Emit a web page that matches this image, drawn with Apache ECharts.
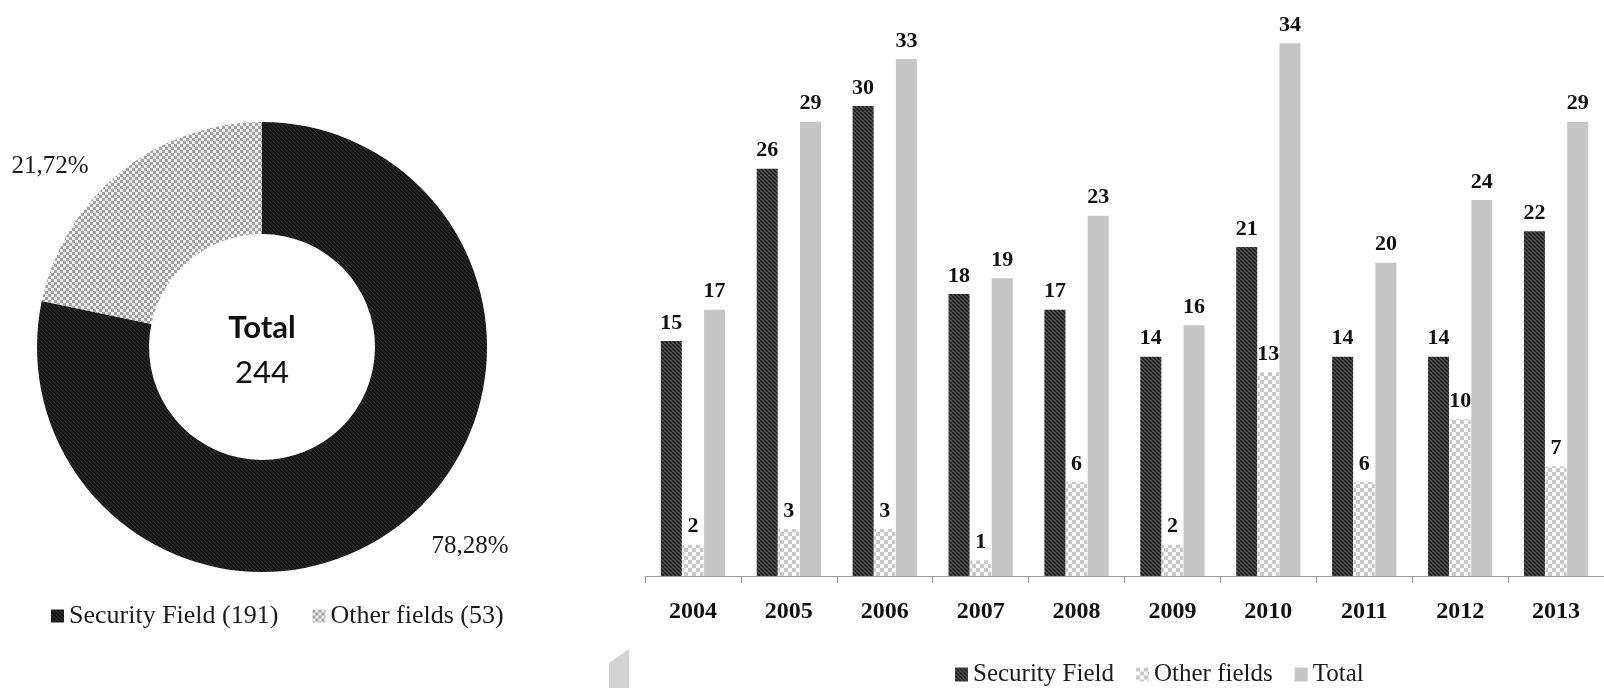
<!DOCTYPE html>
<html>
<head>
<meta charset="utf-8">
<script src="https://cdn.jsdelivr.net/npm/echarts@6/dist/echarts.min.js"></script>
<style>
  html, body { margin: 0; padding: 0; background: #fff; }
  #chart { width: 1604px; height: 688px; }
</style>
</head>
<body>
<div id="chart"></div>
<script>
// Publications per year, split by field
const years = ['2004', '2005', '2006', '2007', '2008', '2009', '2010', '2011', '2012', '2013'];
const securityField = [15, 26, 30, 18, 17, 14, 21, 14, 14, 22];
const otherFields = [2, 3, 3, 1, 6, 2, 13, 6, 10, 7];
const totals = [17, 29, 33, 19, 23, 16, 34, 20, 24, 29];

// Overall split shown in the donut
const fieldNames = ['Security Field', 'Other fields'];
const fieldCounts = [191, 53];

const serif = 'Liberation Serif';

// Small repeating fills: diagonal hatching and checkerboard
function hatch(bg, fg, size, lw) {
  const c = document.createElement('canvas');
  c.width = c.height = size;
  const g = c.getContext('2d');
  g.fillStyle = bg;
  g.fillRect(0, 0, size, size);
  g.strokeStyle = fg;
  g.lineWidth = lw;
  for (const o of [-size, 0, size]) {
    g.beginPath();
    g.moveTo(o, 0);
    g.lineTo(o + size, size);
    g.stroke();
  }
  return { image: c, repeat: 'repeat' };
}
function checker(a, b, cell) {
  const c = document.createElement('canvas');
  c.width = c.height = cell * 2;
  const g = c.getContext('2d');
  g.fillStyle = b;
  g.fillRect(0, 0, cell * 2, cell * 2);
  g.fillStyle = a;
  g.fillRect(0, 0, cell, cell);
  g.fillRect(cell, cell, cell, cell);
  return { image: c, repeat: 'repeat' };
}

const pieDark = hatch('#141414', '#2e2e2e', 4, 1.2);
const pieLight = checker('#a2a2a2', '#f2f2f2', 3);
const barDark = hatch('#5a5a5a', '#1e1e1e', 4, 1.6);
const barLight = checker('#c8c8c8', '#ffffff', 4);
const barTotal = '#c6c6c6';

const pieNames = fieldNames.map((n, i) => `${n} (${fieldCounts[i]})`);
const grandTotal = fieldCounts.reduce((s, v) => s + v, 0);

const chart = echarts.init(document.getElementById('chart'), null, { renderer: 'canvas' });

const labelStyle = {
  show: true,
  position: 'top',
  distance: 7,
  fontFamily: serif,
  fontWeight: 'bold',
  fontSize: 22,
  color: '#111'
};

// Where the two percentage labels sit around the donut
const pieLabelPos = [[470, 546], [50, 166]];

chart.setOption({
  animation: false,
  backgroundColor: '#fff',
  legend: [
    {
      data: pieNames,
      left: 46,
      top: 598,
      icon: 'rect',
      itemWidth: 13,
      itemHeight: 13,
      itemGap: 34,
      selectedMode: false,
      textStyle: { fontFamily: serif, fontSize: 26, color: '#1a1a1a' }
    },
    {
      data: ['Security Field', 'Other fields', 'Total'],
      left: 950,
      top: 657,
      icon: 'rect',
      itemWidth: 13,
      itemHeight: 14,
      itemGap: 22,
      selectedMode: false,
      textStyle: { fontFamily: serif, fontSize: 25, color: '#1a1a1a' }
    }
  ],
  grid: { left: 645, top: 12, width: 963, height: 564 },
  xAxis: {
    type: 'category',
    data: years,
    axisLine: { lineStyle: { color: '#999', width: 1 } },
    axisTick: { show: true, length: 7, lineStyle: { color: '#999' } },
    axisLabel: {
      fontFamily: serif,
      fontWeight: 'bold',
      fontSize: 24,
      color: '#111',
      margin: 24
    }
  },
  yAxis: {
    type: 'value',
    min: 0,
    max: 36,
    show: false,
    splitLine: { show: false }
  },
  graphic: [
    {
      type: 'text',
      x: 262,
      y: 328,
      style: {
        text: 'Total',
        fill: '#111',
        font: 'bold 31px Lato',
        align: 'center',
        verticalAlign: 'middle'
      }
    },
    {
      type: 'text',
      x: 262,
      y: 373,
      style: {
        text: String(grandTotal),
        fill: '#111',
        font: '31px Lato',
        align: 'center',
        verticalAlign: 'middle'
      }
    },
    {
      type: 'polygon',
      shape: { points: [[609, 663], [629, 649], [629, 688], [609, 688]] },
      style: { fill: '#d2d2d2' }
    }
  ],
  series: [
    {
      type: 'pie',
      center: [262, 347],
      radius: [113, 225],
      startAngle: 90,
      clockwise: true,
      silent: true,
      data: fieldNames.map((n, i) => ({
        name: pieNames[i],
        value: fieldCounts[i],
        itemStyle: { color: i === 0 ? pieDark : pieLight }
      })),
      label: {
        show: true,
        position: 'outside',
        overflow: 'none',
        formatter: p => p.percent.toFixed(2).replace('.', ',') + '%',
        fontFamily: serif,
        fontSize: 25,
        color: '#1a1a1a'
      },
      labelLine: { show: false },
      labelLayout: p => ({
        x: pieLabelPos[p.dataIndex][0],
        y: pieLabelPos[p.dataIndex][1],
        width: 140,
        align: 'center',
        verticalAlign: 'middle'
      })
    },
    {
      name: 'Security Field',
      type: 'bar',
      data: securityField,
      barWidth: 21,
      barGap: '3%',
      itemStyle: { color: barDark },
      label: labelStyle
    },
    {
      name: 'Other fields',
      type: 'bar',
      data: otherFields,
      barWidth: 21,
      barGap: '3%',
      itemStyle: { color: barLight },
      label: labelStyle
    },
    {
      name: 'Total',
      type: 'bar',
      data: totals,
      barWidth: 21,
      barGap: '3%',
      itemStyle: { color: barTotal },
      label: labelStyle
    }
  ]
});
</script>
</body>
</html>
